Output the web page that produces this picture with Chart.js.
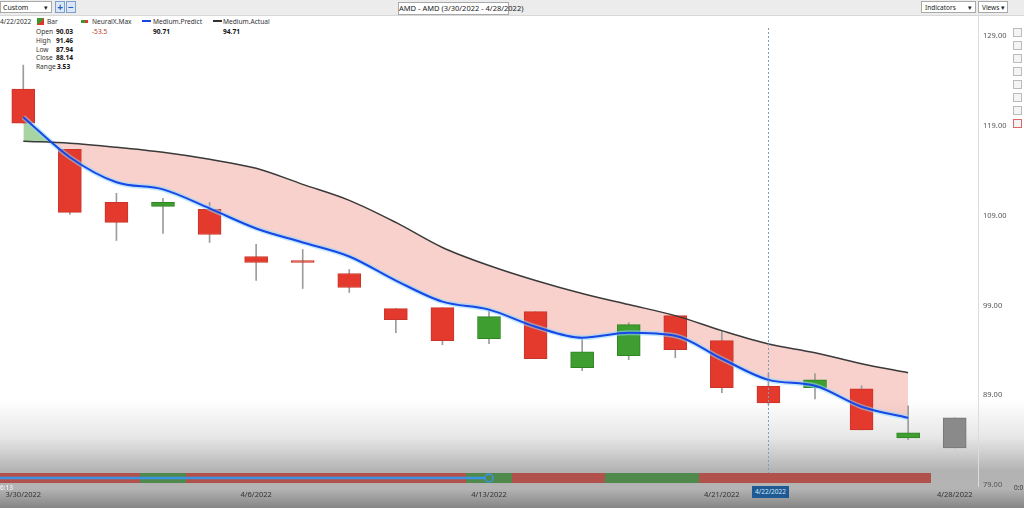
<!DOCTYPE html>
<html>
<head>
<meta charset="utf-8">
<script src="https://cdn.jsdelivr.net/npm/chart.js@4.4.0/dist/chart.umd.min.js"></script>
<style>
  body { margin: 0; width: 1024px; height: 508px; overflow: hidden; background: #fff;
         font-family: "Noto Sans", "Open Sans", sans-serif; position: relative; }
  .abs { position: absolute; white-space: nowrap; }
  #topbar { left: 0; top: 0; width: 1024px; height: 15px; background: #ececec; border-bottom: 1px solid #d8d8d8; }
  #shade { left: 0; top: 400px; width: 1024px; height: 108px;
           background: linear-gradient(to bottom, rgba(255,255,255,1) 0%, #e6e6e6 35%, #b2b2b2 66%, #b4b4b4 82%, #9a9a9a 92%, #858585 100%); }
  .box { background: #fff; border: 1px solid #a9a9a9; font-size: 7px; color: #222; line-height: 11px; box-sizing: border-box; height: 12px; }
  .lg { font-size: 6.6px; color: #333; line-height: 9px; }
  .b { font-weight: bold; color: #111; }
  canvas { position: absolute; left: 0; top: 0; }
  .tool { left: 1013px; width: 9px; height: 9px; border: 1px solid #bbb; background: #f4f4f4; box-sizing: border-box; }
</style>
</head>
<body>
<div id="topbar" class="abs"></div>
<div id="shade" class="abs"></div>

<div class="abs box" style="left:0;top:1px;width:52px;padding-left:2px;">Custom<span style="position:absolute;right:3px;top:0;">&#9662;</span></div>
<div class="abs" style="left:55px;top:1px;width:10px;height:12px;background:#dce7f6;border:1px solid #7c9fce;box-sizing:border-box;color:#1d5fc4;font-size:10px;line-height:10px;text-align:center;font-weight:bold;">+</div>
<div class="abs" style="left:66px;top:1px;width:10px;height:12px;background:#dce7f6;border:1px solid #7c9fce;box-sizing:border-box;color:#1d5fc4;font-size:10px;line-height:10px;text-align:center;font-weight:bold;">&minus;</div>
<div class="abs box" style="left:398px;top:2px;width:111px;height:13px;text-align:center;font-size:7.5px;">AMD - AMD (3/30/2022 - 4/28/2022)</div>
<div class="abs box" style="left:921px;top:1px;width:55px;padding-left:3px;font-size:6.5px;">Indicators<span style="position:absolute;right:3px;top:0;">&#9662;</span></div>
<div class="abs box" style="left:978px;top:1px;width:30px;padding-left:3px;font-size:6.5px;">Views<span style="position:absolute;right:2px;top:0;">&#9662;</span></div>

<div class="abs lg" style="left:0;top:17px;">4/22/2022</div>
<div class="abs" style="left:37px;top:18px;width:7px;height:7px;background:linear-gradient(135deg,#3a9a2e 50%,#e0392b 50%);"></div>
<div class="abs lg" style="left:47px;top:17px;">Bar</div>
<div class="abs lg" style="left:36px;top:27px;">Open</div><div class="abs lg b" style="left:56px;top:27px;">90.03</div>
<div class="abs lg" style="left:36px;top:36px;">High</div><div class="abs lg b" style="left:56px;top:36px;">91.46</div>
<div class="abs lg" style="left:36px;top:45px;">Low</div><div class="abs lg b" style="left:56px;top:45px;">87.94</div>
<div class="abs lg" style="left:36px;top:53px;">Close</div><div class="abs lg b" style="left:56px;top:53px;">88.14</div>
<div class="abs lg" style="left:36px;top:62px;">Range</div><div class="abs lg b" style="left:57px;top:62px;">3.53</div>

<div class="abs" style="left:81px;top:20px;width:7px;height:3px;background:linear-gradient(90deg,#3a9a2e 50%,#e0392b 50%);"></div>
<div class="abs lg" style="left:92px;top:17px;">NeuralX.Max</div>
<div class="abs lg" style="left:92px;top:27px;color:#c0392b;">-53.5</div>
<div class="abs" style="left:142px;top:20px;width:9px;height:2px;background:#1747e6;"></div>
<div class="abs lg" style="left:153px;top:17px;">Medium.Predict</div>
<div class="abs lg b" style="left:153px;top:27px;">90.71</div>
<div class="abs" style="left:213px;top:20px;width:9px;height:2px;background:#333;"></div>
<div class="abs lg" style="left:223px;top:17px;">Medium.Actual</div>
<div class="abs lg b" style="left:223px;top:27px;">94.71</div>

<div class="abs tool" style="top:28px;"></div>
<div class="abs tool" style="top:41px;"></div>
<div class="abs tool" style="top:54px;"></div>
<div class="abs tool" style="top:67px;"></div>
<div class="abs tool" style="top:80px;"></div>
<div class="abs tool" style="top:93px;"></div>
<div class="abs tool" style="top:106px;"></div>
<div class="abs tool" style="top:119px;border-color:#d66;"></div>

<canvas id="c" width="1024" height="508"></canvas>

<div class="abs" style="left:752px;top:486px;width:37px;height:12px;background:#1d5a93;color:#d6e6f6;font-size:6.5px;line-height:12px;text-align:center;">4/22/2022</div>
<div class="abs" style="left:0;top:483px;font-size:6.5px;color:#fff;">6:13</div>
<div class="abs" style="left:1014px;top:483px;font-size:6.5px;color:#333;">0:0</div>

<script>
// trading days shown
const dates = ['3/30/2022','3/31/2022','4/1/2022','4/4/2022','4/5/2022','4/6/2022','4/7/2022','4/8/2022',
  '4/11/2022','4/12/2022','4/13/2022','4/14/2022','4/18/2022','4/19/2022','4/20/2022','4/21/2022',
  '4/22/2022','4/25/2022','4/26/2022','4/27/2022','4/28/2022'];
const dateLabels = ['3/30/2022','4/6/2022','4/13/2022','4/21/2022','4/28/2022'];

const openP  = [123.08,116.39,110.47,110.03,109.69,104.45,104.00,102.55,98.64,98.75,95.29,98.31,92.06,93.40,97.86,95.07,90.03,89.83,89.72,84.25,83.13];
const highP  = [125.76,116.39,111.48,110.92,110.47,105.79,105.23,103.00,98.64,98.75,98.42,98.31,95.29,97.08,97.86,96.19,91.46,91.41,90.05,87.83,86.48];
const lowP   = [119.29,109.13,106.23,107.01,106.01,101.77,100.88,100.43,95.96,94.62,94.74,93.06,91.72,92.95,93.17,89.27,87.94,88.60,85.14,84.04,83.13];
const closeP = [119.29,109.36,108.24,110.47,106.90,103.78,103.78,100.99,97.42,95.07,97.75,93.06,93.84,96.86,94.07,89.83,88.14,90.72,85.14,84.80,86.48];
const liveIndex = 20; // current (unfinished) bar drawn grey

const mediumPredict = [119.96,115.50,112.71,111.92,109.80,107.57,106.01,104.45,101.77,99.42,98.53,96.63,95.41,95.96,95.63,93.06,90.71,90.05,87.71,86.48,null];
const mediumActual  = [117.28,117.06,116.61,116.05,115.27,114.27,112.48,110.70,108.24,105.45,103.44,101.77,100.32,99.09,97.86,96.19,94.71,93.73,92.50,91.50,null];

const yTicks = [79, 89, 99, 109, 119, 129];

// navigator strip direction per day, and where the slider sits
const navDir = ['dn','dn','dn','up','dn','dn','dn','dn','dn','dn','up','dn','dn','up','up','dn','dn','dn','dn','dn'];
const navPos = 10;
const crossIndex = 16;

const bodyColor = openP.map((o, i) => i === liveIndex ? '#8a8a8a' : (closeP[i] >= o ? '#3e9e2f' : '#e43a2d'));
const bodyBorder = openP.map((o, i) => i === liveIndex ? '#777' : (closeP[i] >= o ? '#2f8424' : '#c9352a'));

const extras = {
  id: 'extras',
  afterDatasetsDraw(chart) {
    const { ctx, scales: { x } } = chart;
    const px = x.getPixelForValue(crossIndex);
    ctx.save();
    ctx.strokeStyle = '#7f9dbf';
    ctx.lineWidth = 1;
    ctx.setLineDash([2, 2]);
    ctx.beginPath();
    ctx.moveTo(Math.round(px) + 0.5, 28);
    ctx.lineTo(Math.round(px) + 0.5, 484);
    ctx.stroke();
    ctx.restore();
  },
  afterDraw(chart) {
    const { ctx, scales: { x } } = chart;
    const w = x.getPixelForValue(1) - x.getPixelForValue(0);
    ctx.save();
    navDir.forEach((d, i) => {
      const c = x.getPixelForValue(i);
      const l = Math.round(c - w / 2), r = Math.round(c + w / 2);
      ctx.fillStyle = d === 'up' ? '#4f8a4c' : '#b0524b';
      ctx.fillRect(l, 473, r - l, 10);
    });
    const end = x.getPixelForValue(navPos);
    ctx.strokeStyle = '#3b93e6';
    ctx.lineWidth = 2.5;
    ctx.beginPath();
    ctx.moveTo(0, 478);
    ctx.lineTo(end - 4, 478);
    ctx.stroke();
    ctx.lineWidth = 1.5;
    ctx.beginPath();
    ctx.arc(end, 478, 4, 0, Math.PI * 2);
    ctx.stroke();
    ctx.restore();
  }
};

new Chart(document.getElementById('c'), {
  data: {
    labels: dates,
    datasets: [
      {
        type: 'line', data: mediumPredict, borderColor: 'rgba(140,215,255,0.55)', borderWidth: 5,
        pointRadius: 0, cubicInterpolationMode: 'monotone', order: 3
      },
      {
        type: 'line', label: 'Medium.Actual', data: mediumActual, borderColor: '#3a3a3a', borderWidth: 1.5,
        pointRadius: 0, cubicInterpolationMode: 'monotone', order: 1
      },
      {
        type: 'line', label: 'Medium.Predict', data: mediumPredict, borderColor: '#1747e6', borderWidth: 2,
        pointRadius: 0, cubicInterpolationMode: 'monotone', order: 0,
        fill: { target: 1, above: 'rgba(80,170,70,0.5)', below: 'rgba(235,120,110,0.35)' }
      },
      {
        type: 'bar', data: lowP.map((l, i) => [l, highP[i]]), backgroundColor: '#9c9c9c',
        barThickness: 1, grouped: false, order: 5
      },
      {
        type: 'bar', label: 'Bar', data: openP.map((o, i) => [o, closeP[i]]), backgroundColor: bodyColor,
        borderColor: bodyBorder, borderWidth: 1, borderSkipped: false, barThickness: 23, grouped: false, order: 4
      }
    ]
  },
  options: {
    responsive: false,
    animation: false,
    layout: { padding: { top: 14, left: 0, right: 14, bottom: 0 } },
    plugins: {
      legend: { display: false },
      tooltip: { enabled: false },
      filler: { drawTime: 'beforeDatasetsDraw' }
    },
    scales: {
      x: {
        offset: true,
        grid: { display: false, drawTicks: false },
        border: { display: false },
        afterFit(s) { s.height = 22; },
        ticks: {
          autoSkip: false, maxRotation: 0, padding: 4, color: '#333',
          font: { size: 7.5, family: 'Noto Sans' },
          callback(v) { const d = dates[v]; return dateLabels.includes(d) ? d : ''; }
        }
      },
      y: {
        position: 'right',
        min: 78.89,
        max: 131.45,
        grid: { display: false, drawTicks: false },
        border: { display: true, color: '#dcdcdc' },
        afterFit(s) { s.width = 32; },
        afterBuildTicks(s) { s.ticks = yTicks.map(v => ({ value: v })); },
        ticks: {
          padding: 5, color: '#555',
          font: { size: 7.5, family: 'Noto Sans' },
          callback: v => v.toFixed(2)
        }
      }
    }
  },
  plugins: [extras]
});
</script>
</body>
</html>
